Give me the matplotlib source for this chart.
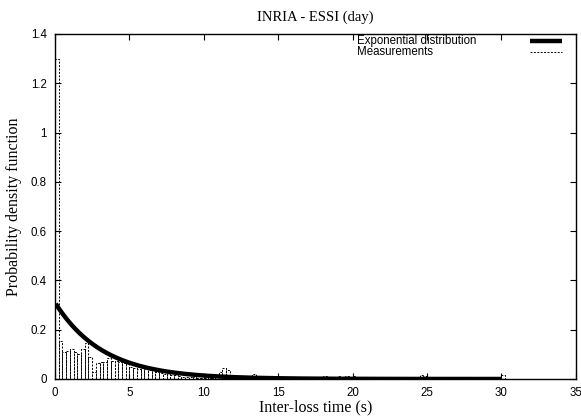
import numpy as np
import matplotlib
matplotlib.use("Agg")
import matplotlib.pyplot as plt

# histogram of measured inter-loss times (bin width 0.25 s)
bin_width = 0.25
meas = [
    # 0 - 5 s
    1.30, 0.155, 0.11, 0.115, 0.12, 0.11, 0.10, 0.12, 0.145, 0.09,
    0.03, 0.065, 0.07, 0.07, 0.085, 0.075, 0.075, 0.07, 0.065, 0.06,
    # 5 - 10 s
    0.05, 0.045, 0.04, 0.05, 0.04, 0.035, 0.035, 0.03, 0.025, 0.02,
    0.02, 0.015, 0.015, 0.012, 0.01, 0.01, 0.008, 0.008, 0.006, 0.005,
    # 10 - 15 s
    0.005, 0.004, 0.006, 0.008, 0.03, 0.045, 0.035, 0.01, 0.005, 0.004,
    0.003, 0.004, 0.003, 0.02, 0.004, 0.003, 0.002, 0.003, 0.002, 0.003,
    # 15 - 20 s
    0.01, 0.008, 0.01, 0.008, 0.01, 0.008, 0.01, 0.008, 0.005, 0.003,
    0.004, 0.002, 0.012, 0.003, 0.002, 0.004, 0.012, 0.01, 0.012, 0.01,
    # 20 - 25 s
    0.012, 0.006, 0.003, 0.002, 0.002, 0.003, 0.002, 0.002, 0.002, 0.003,
    0.002, 0.002, 0.002, 0.002, 0.002, 0.003, 0.002, 0.002, 0.015, 0.012,
    # 25 - 30.25 s
    0.01, 0.002, 0.002, 0.002, 0.002, 0.002, 0.002, 0.002, 0.002, 0.002,
    0.002, 0.002, 0.002, 0.002, 0.002, 0.002, 0.002, 0.002, 0.002, 0.002,
    0.015,
]
bin_left = np.arange(len(meas)) * bin_width

# fitted exponential distribution
lam = 0.31
x_fit = np.linspace(0.05, 30, 300)
y_fit = lam * np.exp(-lam * x_fit)

xticks = [0, 5, 10, 15, 20, 25, 30, 35]
yticks = [0, 0.2, 0.4, 0.6, 0.8, 1, 1.2, 1.4]
ytick_labels = ["0", "0.2", "0.4", "0.6", "0.8", "1", "1.2", "1.4"]
series_names = ["Exponential distribution", "Measurements"]

dash = (0, (2, 1.5))

fig = plt.figure(figsize=(5.81, 4.19), dpi=100)
ax = fig.add_axes([0.0947, 0.0955, 0.8963, 0.8235])

ax.bar(bin_left, meas, width=bin_width, align="edge", fill=False,
       edgecolor="black", linestyle=dash, linewidth=0.7)
ax.plot(x_fit, y_fit, color="black", linewidth=3.2, solid_capstyle="butt")

ax.set_xlim(0, 35)
ax.set_ylim(0, 1.4)
ax.set_xticks(xticks)
ax.set_xticklabels([str(t) for t in xticks])
ax.set_yticks(yticks)
ax.set_yticklabels(ytick_labels)
ax.tick_params(direction="in", top=True, right=True, length=4, width=0.8,
               labelsize=8.3, pad=6)
for lab in ax.get_xticklabels() + ax.get_yticklabels():
    lab.set_family("Liberation Sans")
for s in ax.spines.values():
    s.set_linewidth(1.0)

ax.set_title("INRIA - ESSI (day)", family="Liberation Serif", fontsize=10.5, pad=9.5)
ax.set_xlabel("Inter-loss time (s)", family="Liberation Serif", fontsize=11.5, labelpad=0)
ax.set_ylabel("Probability density function", family="Liberation Serif", fontsize=11.5, labelpad=6)

# gnuplot-style key: text left, sample on the right
key_y = [0.980, 0.948]
key_styles = [dict(linewidth=3.2, linestyle="-"), dict(linewidth=0.7, linestyle=dash)]
for name, yk, st in zip(series_names, key_y, key_styles):
    ax.text(0.58, yk, name, transform=ax.transAxes, ha="left", va="center",
            family="Liberation Sans", fontsize=8.3)
    ax.plot([0.912, 0.973], [yk, yk], transform=ax.transAxes, color="black",
            solid_capstyle="butt", **st)

fig.savefig("out.png", dpi=100)
